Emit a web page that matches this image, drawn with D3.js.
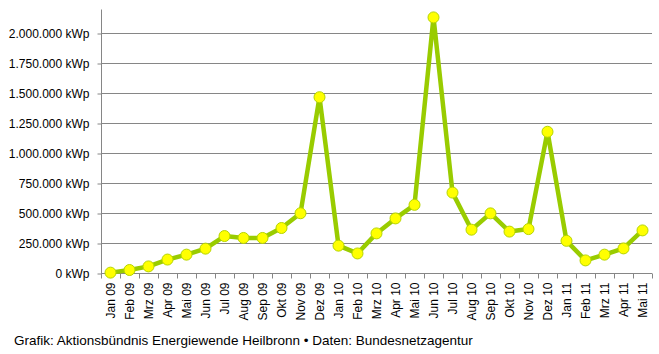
<!DOCTYPE html>
<html>
<head>
<meta charset="utf-8">
<script src="https://cdn.jsdelivr.net/npm/d3@7"></script>
<style>
  body { margin: 0; background: #fff; }
  svg { display: block; }
</style>
</head>
<body>
<div id="chart"></div>
<script>
// Monthly newly installed PV capacity (kWp)
var months = [
	"Jan 09", "Feb 09", "Mrz 09", "Apr 09", "Mai 09", "Jun 09", "Jul 09", "Aug 09", "Sep 09", "Okt 09", "Nov 09", "Dez 09",
	"Jan 10", "Feb 10", "Mrz 10", "Apr 10", "Mai 10", "Jun 10", "Jul 10", "Aug 10", "Sep 10", "Okt 10", "Nov 10", "Dez 10",
	"Jan 11", "Feb 11", "Mrz 11", "Apr 11", "Mai 11"
];
var values = [
	3000, 25000, 55000, 112000, 153000, 203000, 308000, 292000, 292000, 375000, 498000, 1465000,
	228000, 163000, 330000, 455000, 568000, 2130000, 670000, 361000, 497000, 345000, 366000, 1177000,
	268000, 105000, 153000, 205000, 355000
];
var yTicks = [0, 250000, 500000, 750000, 1000000, 1250000, 1500000, 1750000, 2000000];
var footer = "Grafik: Aktionsbündnis Energiewende Heilbronn \u2022 Daten: Bundesnetzagentur";

// Canvas parameters
var width = 659, height = 354;
var plot = { left: 101, right: 652, top: 9, bottom: 273 };
var font = "'Liberation Sans', Arial, sans-serif";
var gridColor = "#868686";
var lineColor = "#99cc00";
var markerFill = "#ffff00";

var de = d3.formatLocale({ decimal: ",", thousands: ".", grouping: [3], currency: ["", "€"] });
var fmt = de.format(",d");

var svg = d3.select("#chart")
	.append("svg")
	.attr("width", width)
	.attr("height", height);

var x = d3.scaleBand()
	.domain(months)
	.range([plot.left, plot.right])
	.padding(0);

var y = d3.scaleLinear()
	.domain([0, 2200000])
	.range([plot.bottom, plot.top]);

// Gridlines
svg.append("g")
	.selectAll("line")
	.data(yTicks.slice(1))
	.enter()
	.append("line")
	.attr("x1", plot.left)
	.attr("x2", plot.right)
	.attr("y1", function(d) { return Math.round(y(d)) + 0.5; })
	.attr("y2", function(d) { return Math.round(y(d)) + 0.5; })
	.attr("stroke", gridColor)
	.attr("stroke-width", 1);

// Y axis
var yAxis = svg.append("g")
	.attr("transform", "translate(" + (plot.left + 0.5) + ",0.5)")
	.call(d3.axisLeft(y)
		.tickValues(yTicks)
		.tickSize(4)
		.tickPadding(8)
		.tickFormat(function(d) { return fmt(d) + " kWp"; }));
yAxis.select(".domain").attr("stroke", gridColor).attr("d", "M0," + Math.round(plot.top) + "V" + Math.round(plot.bottom));
yAxis.selectAll(".tick line").attr("stroke", gridColor);
yAxis.selectAll(".tick text")
	.attr("font-family", font)
	.attr("font-size", "12px")
	.attr("fill", "#000");

// X axis
var xAxis = svg.append("g")
	.attr("transform", "translate(0," + (Math.round(plot.bottom) + 0.5) + ")")
	.call(d3.axisBottom(x).tickSize(0).tickPadding(0));
xAxis.select(".domain").attr("stroke", gridColor).attr("d", "M" + plot.left + ",0H" + plot.right);
xAxis.selectAll(".tick text")
	.attr("font-family", font)
	.attr("font-size", "12px")
	.attr("fill", "#000")
	.attr("text-anchor", "end")
	.attr("dy", "0.35em")
	.attr("transform", "translate(0,9) rotate(-90)");
// Category boundary ticks
xAxis.append("g")
	.selectAll("line")
	.data(months.concat([null]))
	.enter()
	.append("line")
	.attr("x1", function(d, i) { return Math.round(plot.left + i * x.step()) + 0.5; })
	.attr("x2", function(d, i) { return Math.round(plot.left + i * x.step()) + 0.5; })
	.attr("y1", 0)
	.attr("y2", 5)
	.attr("stroke", gridColor);

// Series line
var line = d3.line()
	.x(function(d, i) { return x(months[i]) + x.bandwidth() / 2; })
	.y(function(d) { return y(d); });

svg.append("path")
	.datum(values)
	.attr("d", line)
	.attr("fill", "none")
	.attr("stroke", lineColor)
	.attr("stroke-width", 4.5)
	.attr("stroke-linejoin", "round");

// Markers
svg.append("g")
	.selectAll("circle")
	.data(values)
	.enter()
	.append("circle")
	.attr("cx", function(d, i) { return x(months[i]) + x.bandwidth() / 2; })
	.attr("cy", function(d) { return y(d); })
	.attr("r", 5.5)
	.attr("fill", markerFill)
	.attr("stroke", "#b5d400")
	.attr("stroke-width", 1);

// Source line
svg.append("text")
	.attr("x", 14)
	.attr("y", 345)
	.attr("font-family", font)
	.attr("font-size", "13.5px")
	.attr("fill", "#000")
	.text(footer);
</script>
</body>
</html>
